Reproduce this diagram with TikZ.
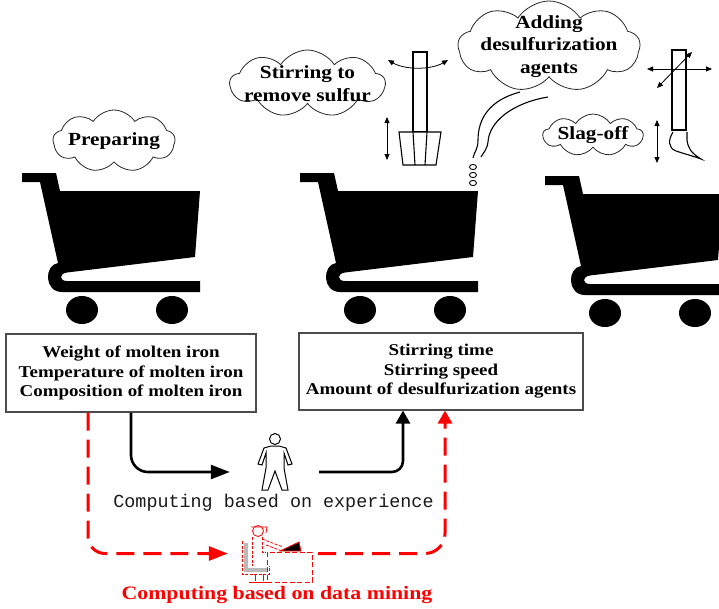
\documentclass[tikz,border=0pt]{standalone}
\usepackage{fontspec}
\setmainfont{Liberation Serif}[FakeStretch=1.15]
\newfontfamily\codefont{Liberation Mono}
\usetikzlibrary{shapes.symbols,arrows.meta,calc}

\tikzset{
  cart/.pic={
    % basket, handle and the curled base rail as one silhouette
    \fill (22,173) -- (56,173) -- (60,191) -- (200,191) -- (195,257)
      -- (67,272.5) .. controls (59,273.5) and (59,281) .. (67,281)
      -- (200,281) -- (200,292) -- (62,292)
      .. controls (44,292) and (44,265) .. (58,263)
      -- (40,182) -- (22,182) -- cycle;
    \fill (82,310) ellipse [x radius=16, y radius=14];
    \fill (172,310) ellipse [x radius=16, y radius=14];
  }
}

\begin{document}
\begin{tikzpicture}[x=1pt,y=-1pt,
  cloudbox/.style={cloud, cloud puffs=9, cloud puff arc=115, cloud ignores aspect,
    draw=black!85, line width=0.8pt, inner sep=0pt},
  cloudtext/.style={font=\fontsize{18.5}{22.5}\selectfont\bfseries, align=center, inner sep=0pt},
  infobox/.style={draw=black!70, line width=1.1pt, align=center, inner sep=0pt,
    font=\fontsize{16.5}{19.5}\selectfont\bfseries},
  tool/.style={line width=1.1pt},
  thinarrow/.style={line width=0.8pt,
    {Triangle[length=6pt,width=5pt]}-{Triangle[length=6pt,width=5pt]}},
  blackflow/.style={line width=2.6pt},
  redflow/.style={line width=3pt, red, dash pattern=on 18pt off 9pt},
  htip/.style={-{Triangle[length=19pt,width=14pt]}},
  vtip/.style={-{Triangle[length=13pt,width=14pt]}},
]
\useasboundingbox (0,0) rectangle (719,608);

% ladles (carts)
\pic at (0,0) {cart};
\pic at (278,0) {cart};
\pic at (523,3) {cart};

% process labels
\node[cloudbox, minimum width=122, minimum height=62] (cprep) at (114,141) {};
\node[cloudtext] (tprep) at (cprep.center) {Preparing};

\node[cloudbox, minimum width=155, minimum height=67] (cstir) at (307.5,83.5) {};
\node[cloudtext] (tstir) at (cstir.center) {Stirring to\\remove sulfur};

\node[cloudbox, minimum width=182, minimum height=91] (cadd) at (549,46.5) {};
\node[cloudtext] (tadd) at (cadd.center) {Adding\\desulfurization\\agents};

\node[cloudbox, minimum width=100, minimum height=42] (cslag) at (593,135) {};
\node[cloudtext] (tslag) at (cslag.center) {Slag-off};

% stirring impeller
\draw[tool, fill=white] (413,52) rectangle (427,132);
\draw[tool, fill=white] (399,132) -- (441,132) -- (436,165) -- (403,165) -- cycle;
\draw[tool] (413,132) -- (415,165) (427,132) -- (425,165);
\draw[thinarrow] (388,60) .. controls (405,70) and (431,70) .. (448,60);
\draw[thinarrow] (387,117) -- (387,160);

% injection lance and bubbles
\draw[tool] (520,92) .. controls (490,100) and (478,118) .. (478,140)
  .. controls (478,150) and (474,152) .. (473,158);
\draw[tool] (548,97) .. controls (512,103) and (489,122) .. (488,142)
  .. controls (487,150) and (483,153) .. (481,157);
\foreach \yy in {167,175,183}
  \draw[line width=0.9pt] (473,\yy) ellipse [x radius=3.5, y radius=2.6];

% slag-off rake
\draw[tool, fill=white] (672,50) rectangle (686,130);
\draw[tool] (673,132) .. controls (668,140) and (668,148) .. (676,151)
  .. controls (685,154) and (693,156) .. (701,159)
  .. controls (691,153) and (688,148) .. (687,140) -- (687,132);
\draw[thinarrow] (657,120) -- (657,163);
\draw[thinarrow] (647,69) -- (712,69);
\draw[thinarrow] (657,88) -- (692,52);

% parameter boxes
\node[infobox, minimum width=250, minimum height=78] (box1) at (131,373)
  {Weight of molten iron\\Temperature of molten iron\\Composition of molten iron};
\node[infobox, minimum width=284, minimum height=77] (box2) at (441,371.5)
  {Stirring time\\Stirring speed\\Amount of desulfurization agents};

% operator
\node[minimum width=34, minimum height=57, inner sep=0pt] (person) at (275,461.5) {};
\draw[line width=1pt, fill=white] (271,446) -- (264,448) -- (258,464) -- (262,465)
  -- (266,453) -- (266,468) -- (262,490) -- (268,490) -- (275,471) -- (282,490)
  -- (288,490) -- (284,468) -- (284,453) -- (288,465) -- (292,464) -- (286,448)
  -- (279,446) -- cycle;
\draw[line width=1pt, fill=white] (275,439) circle [radius=5.5];

\node[font=\fontsize{18.4}{22}\codefont, text=black!90, inner sep=0pt] (tman)
  at (273.5,503) {Computing based on experience};

% computer workstation
\node[minimum width=67, minimum height=57, inner sep=0pt] (pc) at (278.5,553.5) {};
\fill[gray!55] (244,543) rectangle (248,572);
\fill[gray!55] (244,568) rectangle (267,572);
\begin{scope}[red, line width=0.8pt]
  \draw[dashed, dash pattern=on 3pt off 1.5pt] (242,541) -- (242,574) -- (269,574) -- (269,566);
  \draw (258,531) circle [radius=5.5];
  \draw (251,527) -- (267,527) -- (266,533);
  \draw[dash pattern=on 3pt off 1.5pt] (252,537) -- (252,566) (262,537) -- (262,552) -- (266,552);
  \draw[dash pattern=on 3pt off 1.5pt] (262,539) -- (283,547) (266,545) -- (282,551);
  \draw (255,574) -- (255,581) (263,574) -- (263,581) (249,582) -- (268,582);
  \draw[dash pattern=on 5pt off 2.5pt] (267,552) rectangle (312,582);
  \fill[black] (280,551) -- (299,542) -- (301,551) -- cycle;
  \draw (280,551) -- (299,542) -- (301,551) -- cycle;
\end{scope}

\node[font=\fontsize{19}{22}\selectfont\bfseries, text=red, inner sep=0pt] (tpc)
  at (277,595) {Computing based on data mining};

% experience-based flow
\draw[blackflow, htip, rounded corners=17pt] (box1.south)
  |- ([xshift=-28pt,yshift=-10.5pt]person.west);
\draw[blackflow, vtip, rounded corners=11pt] ([xshift=27pt,yshift=-10.5pt]person.east)
  -| ([xshift=-38pt]box2.south);

% data-mining flow
\draw[redflow, htip, rounded corners=17pt] ([xshift=-43pt]box1.south)
  |- ([xshift=-17pt]pc.west);
\draw[redflow, vtip, rounded corners=20pt] ([xshift=6pt]pc.east)
  -| ([xshift=4pt]box2.south);
\end{tikzpicture}
\end{document}
